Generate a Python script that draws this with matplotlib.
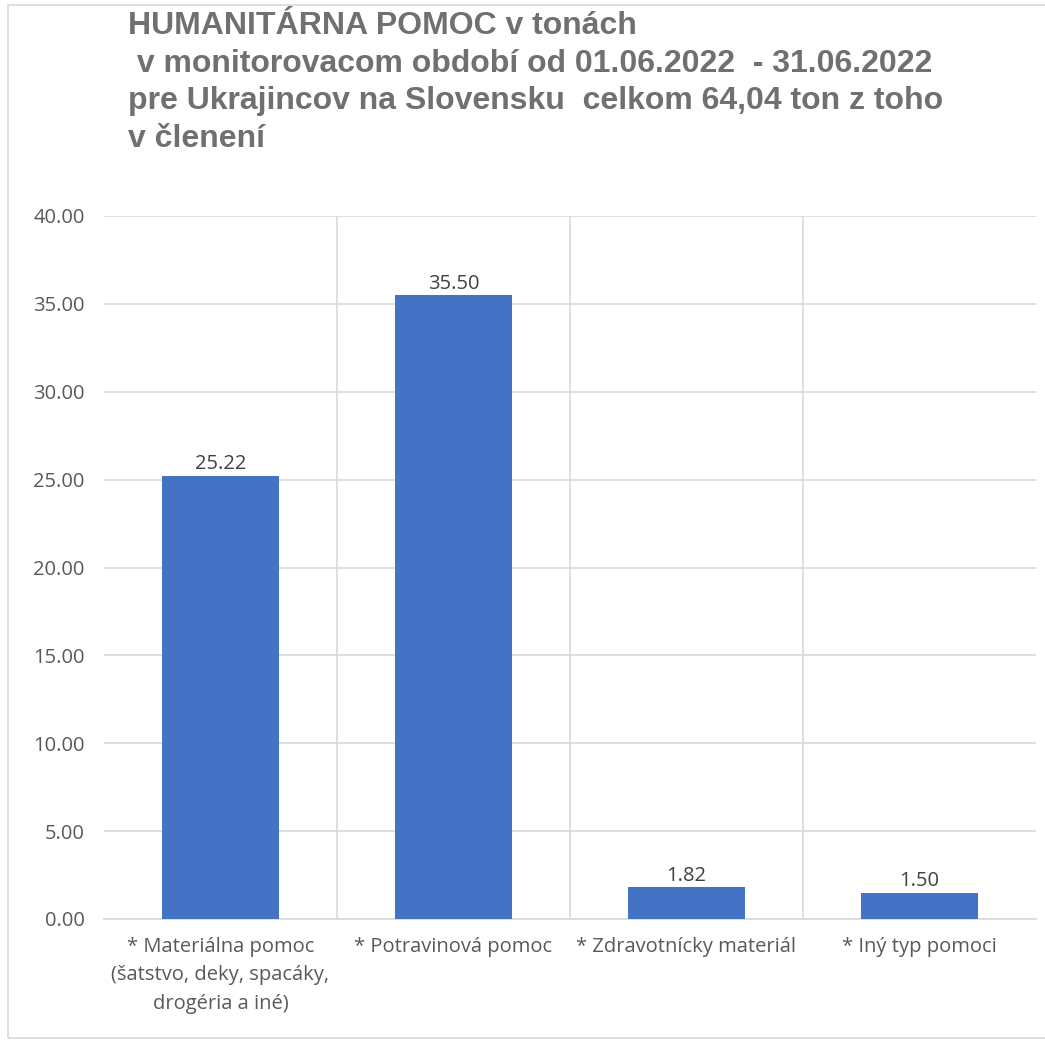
import numpy as np
import matplotlib.pyplot as plt
from matplotlib.patches import Rectangle

# údaje z grafu
categories = ["* Materiálna pomoc\n(šatstvo, deky, spacáky,\ndrogéria a iné)",
              "* Potravinová pomoc",
              "* Zdravotnícky materiál",
              "* Iný typ pomoci"]
values = [25.22, 35.50, 1.82, 1.50]
yticks = [0, 5, 10, 15, 20, 25, 30, 35, 40]

title = ("HUMANITÁRNA POMOC v tonách\n v monitorovacom období od 01.06.2022  - 31.06.2022\n"
         "pre Ukrajincov na Slovensku  celkom 64,04 ton z toho\nv členení")

W, H = 1045, 1040
fig = plt.figure(figsize=(W / 100, H / 100), dpi=100, facecolor="white")

# rámik grafu
fig.patches.append(Rectangle((8 / W, 2 / H), 1.2, (1040 - 7) / H, transform=fig.transFigure,
                             fill=False, edgecolor="#d9d9d9", linewidth=1.2))

ax = fig.add_axes([104 / W, (H - 919) / H, (1036 - 104) / W, (919 - 216) / H])
x = np.arange(len(values))
ax.bar(x, values, width=0.5, color="#4472C4", zorder=3)

fs = 14.5
ax.set_xlim(-0.5, len(values) - 0.5)
ax.set_ylim(0, 40)
ax.set_yticks(yticks)
ax.set_yticklabels([f"{v:.2f}" for v in yticks], fontsize=fs, color="#595959",
                   family="Open Sans")
ax.set_xticks(x)
ax.set_xticklabels(categories, fontsize=fs, color="#595959", family="Open Sans",
                   linespacing=1.55, va="top")
ax.tick_params(length=0)
ax.tick_params(axis="y", pad=14)
ax.tick_params(axis="x", pad=13)

ax.grid(axis="y", color="#d9d9d9", linewidth=1.2, zorder=0)
for b in np.arange(0.5, len(values) - 0.5, 1.0):
    ax.axvline(b, color="#d9d9d9", linewidth=1.2, zorder=0)
for s in ["top", "right", "left"]:
    ax.spines[s].set_visible(False)
ax.spines["bottom"].set_color("#d9d9d9")
ax.spines["bottom"].set_linewidth(1.2)

for xi, v in zip(x, values):
    ax.annotate(f"{v:.2f}", (xi, v), xytext=(0, 1), textcoords="offset points",
                ha="center", va="bottom", fontsize=fs, color="#404040", family="Open Sans")

# nadpis
fig.text(128 / W, 1 - 11 / H, title, fontsize=23, fontweight="bold",
         color="#707070", family="Liberation Sans", va="top", ha="left", linespacing=1.33)

fig.savefig("out.png", dpi=100, facecolor="white")
